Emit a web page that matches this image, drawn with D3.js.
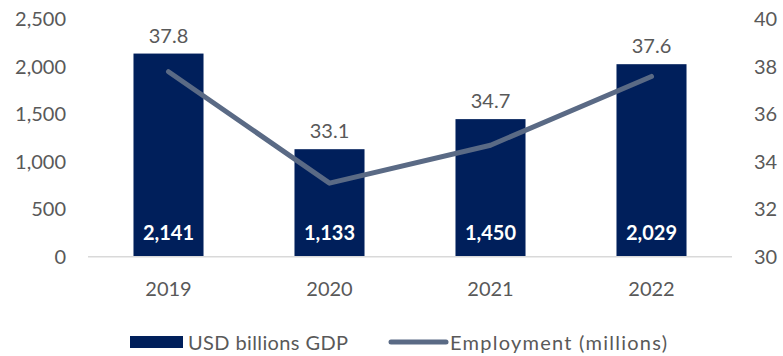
<!DOCTYPE html>
<html>
<head>
<meta charset="utf-8">
<script src="https://cdn.jsdelivr.net/npm/d3@7"></script>
<style>
  html, body { margin: 0; padding: 0; background: #ffffff; }
  svg { display: block; font-family: Lato, "Open Sans", sans-serif; }
</style>
</head>
<body>
<svg id="chart" width="783" height="356"></svg>
<script>
// GDP (bars, left axis) and employment (line, right axis) by year
const years = ["2019", "2020", "2021", "2022"];
const gdp = [2141, 1133, 1450, 2029];
const employment = [37.8, 33.1, 34.7, 37.6];
const leftTicks = [0, 500, 1000, 1500, 2000, 2500];
const rightTicks = [30, 32, 34, 36, 38, 40];
const legendLabels = ["USD billions GDP", "Employment (millions)"];

const barColor = "#001f5b";
const lineColor = "#5a6a85";
const textColor = "#595959";

const svg = d3.select("#chart");
const plot = { left: 88, right: 732, top: 19.5, bottom: 256.7 };

const x = d3.scaleBand()
  .domain(years)
  .range([plot.left, plot.right])
  .paddingInner(0.565)
  .paddingOuter(0.2825);

const yLeft = d3.scaleLinear().domain([0, 2500]).range([plot.bottom, plot.top]);
const yRight = d3.scaleLinear().domain([30, 40]).range([plot.bottom, plot.top]);

// Left axis labels
const leftAxis = d3.axisLeft(yLeft)
  .tickValues(leftTicks)
  .tickFormat(d3.format(","))
  .tickSize(0)
  .tickPadding(0);
svg.append("g")
  .attr("transform", "translate(66,0)")
  .call(leftAxis)
  .call(g => g.select(".domain").remove())
  .call(g => g.selectAll("text")
    .attr("fill", textColor)
    .style("font-size", "20px")
    .style("font-family", "Lato, 'Open Sans', sans-serif"));

// Right axis labels
const rightAxis = d3.axisRight(yRight)
  .tickValues(rightTicks)
  .tickSize(0)
  .tickPadding(0);
svg.append("g")
  .attr("transform", "translate(754,0)")
  .call(rightAxis)
  .call(g => g.select(".domain").remove())
  .call(g => g.selectAll("text")
    .attr("fill", textColor)
    .style("font-size", "20px")
    .style("font-family", "Lato, 'Open Sans', sans-serif"));

// Bars
svg.append("g")
  .selectAll("rect")
  .data(years)
  .join("rect")
  .attr("x", d => x(d))
  .attr("width", x.bandwidth())
  .attr("y", (d, i) => yLeft(gdp[i]))
  .attr("height", (d, i) => yLeft(0) - yLeft(gdp[i]))
  .attr("fill", barColor);

// Baseline
svg.append("line")
  .attr("x1", plot.left).attr("x2", plot.right)
  .attr("y1", yLeft(0)).attr("y2", yLeft(0))
  .attr("stroke", "#d9d9d9")
  .attr("stroke-width", 1.5);

// Category labels
svg.append("g")
  .selectAll("text")
  .data(years)
  .join("text")
  .attr("x", d => x(d) + x.bandwidth() / 2)
  .attr("y", 288)
  .attr("text-anchor", "middle")
  .attr("dominant-baseline", "central")
  .attr("fill", textColor)
  .style("font-size", "20px")
  .text(d => d);

// GDP values inside the bars
svg.append("g")
  .selectAll("text")
  .data(years)
  .join("text")
  .attr("x", d => x(d) + x.bandwidth() / 2)
  .attr("y", 232)
  .attr("text-anchor", "middle")
  .attr("dominant-baseline", "central")
  .attr("fill", "#ffffff")
  .style("font-size", "20px")
  .style("font-weight", "bold")
  .text((d, i) => d3.format(",")(gdp[i]));

// Employment line
const line = d3.line()
  .x((d, i) => x(years[i]) + x.bandwidth() / 2)
  .y(d => yRight(d));
svg.append("path")
  .datum(employment)
  .attr("d", line)
  .attr("fill", "none")
  .attr("stroke", lineColor)
  .attr("stroke-width", 5)
  .attr("stroke-linecap", "round")
  .attr("stroke-linejoin", "round");

// Employment values above the bars
svg.append("g")
  .selectAll("text")
  .data(years)
  .join("text")
  .attr("x", d => x(d) + x.bandwidth() / 2)
  .attr("y", (d, i) => yLeft(gdp[i]) - 19)
  .attr("text-anchor", "middle")
  .attr("dominant-baseline", "central")
  .attr("fill", textColor)
  .style("font-size", "20px")
  .text((d, i) => employment[i].toFixed(1));

// Legend
const legend = svg.append("g");
legend.append("rect")
  .attr("x", 130).attr("y", 336)
  .attr("width", 53).attr("height", 12)
  .attr("fill", barColor);
legend.append("text")
  .attr("x", 188).attr("y", 342)
  .attr("dominant-baseline", "central")
  .attr("fill", textColor)
  .style("font-size", "20px")
  .attr("textLength", 160)
  .attr("lengthAdjust", "spacing")
  .text(legendLabels[0]);
legend.append("line")
  .attr("x1", 391).attr("x2", 446)
  .attr("y1", 342).attr("y2", 342)
  .attr("stroke", lineColor)
  .attr("stroke-width", 5)
  .attr("stroke-linecap", "round");
legend.append("text")
  .attr("x", 450).attr("y", 342)
  .attr("dominant-baseline", "central")
  .attr("fill", textColor)
  .style("font-size", "20px")
  .attr("textLength", 217)
  .attr("lengthAdjust", "spacing")
  .text(legendLabels[1]);
</script>
</body>
</html>
